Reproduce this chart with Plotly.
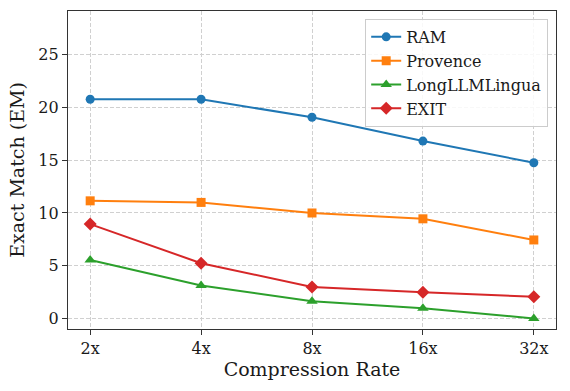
import plotly.graph_objects as go

categories = ["2x", "4x", "8x", "16x", "32x"]
ram = [20.75, 20.75, 19.05, 16.8, 14.75]
provence = [11.15, 11.0, 10.0, 9.45, 7.45]
longllmlingua = [5.55, 3.15, 1.65, 1.0, 0.02]
exit_vals = [8.95, 5.25, 3.0, 2.5, 2.08]
y_ticks = [0, 5, 10, 15, 20, 25]

series = [
    ("RAM", ram, "#1f77b4", "circle", 9),
    ("Provence", provence, "#ff7f0e", "square", 9),
    ("LongLLMLingua", longllmlingua, "#2ca02c", "triangle-up", 10),
    ("EXIT", exit_vals, "#d62728", "diamond", 10),
]

font_family = "DejaVu Serif"
fig = go.Figure()
xs = list(range(len(categories)))
for name, vals, color, sym, size in series:
    fig.add_trace(go.Scatter(
        x=xs, y=vals, name=name, mode="lines+markers",
        line=dict(color=color, width=2),
        marker=dict(symbol=sym, size=size, color=color),
    ))

axis_common = dict(
    showline=True, linecolor="#333", linewidth=1.2, mirror=True,
    ticks="outside", ticklen=5, tickcolor="#333", tickwidth=1.2,
    showgrid=True, gridcolor="#d0d0d0", griddash="4px,2px", gridwidth=1,
    zeroline=False, automargin=False,
    tickfont=dict(family=font_family, size=16, color="#1a1a1a"),
)

fig.update_layout(
    width=570, height=391,
    margin=dict(l=68, r=14, t=11, b=62),
    paper_bgcolor="white", plot_bgcolor="white",
    font=dict(family=font_family, color="#1a1a1a"),
    showlegend=True,
    legend=dict(
        x=0.984, y=0.975, xanchor="right", yanchor="top",
        bgcolor="rgba(255,255,255,0.85)", bordercolor="#cccccc", borderwidth=1,
        font=dict(family=font_family, size=16, color="#1a1a1a"),
        tracegroupgap=0,
    ),
    xaxis=dict(
        **axis_common,
        tickmode="array", tickvals=xs, ticktext=categories,
        range=[-0.2, 4.2],
        title=dict(text="Compression Rate", font=dict(family=font_family, size=19), standoff=4),
    ),
    yaxis=dict(
        **axis_common,
        tickmode="array", tickvals=y_ticks,
        range=[-0.97, 29.1],
        title=dict(text="Exact Match (EM)", font=dict(family=font_family, size=19), standoff=8),
    ),
)

fig.write_html(
    "out.html",
    config={"displayModeBar": False},
    post_script="document.body.style.margin='0';document.body.style.padding='0';",
)
